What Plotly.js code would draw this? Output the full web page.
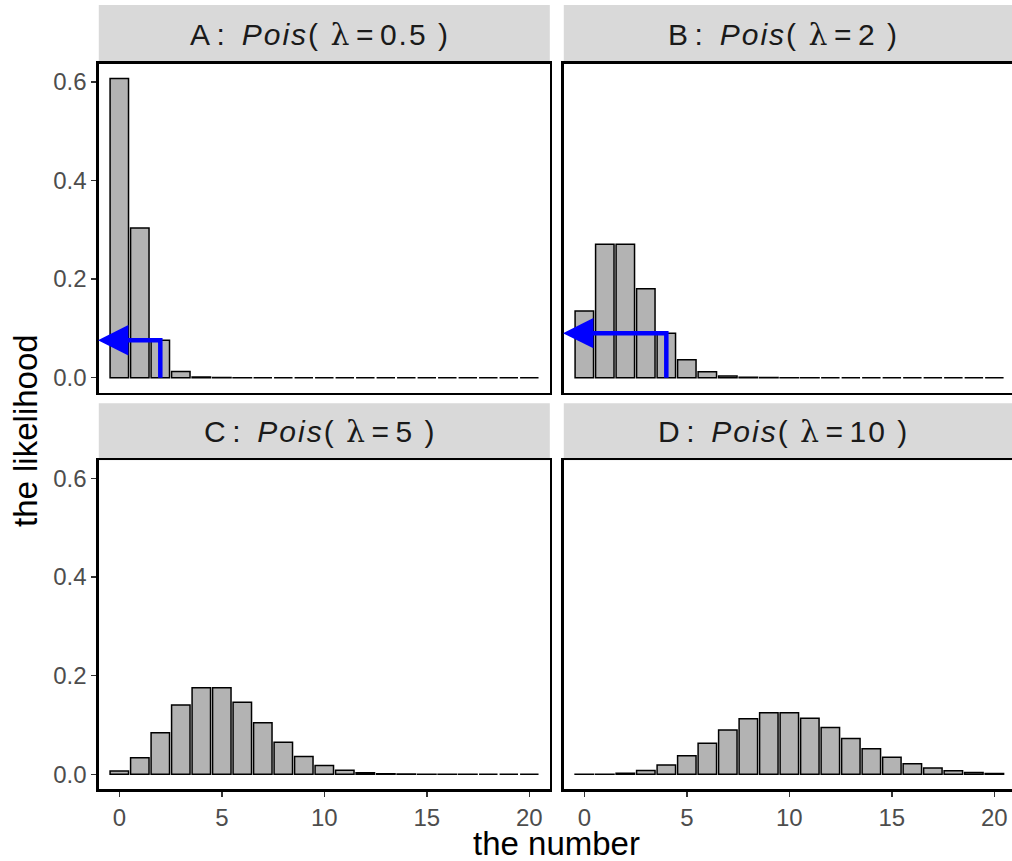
<!DOCTYPE html>
<html>
<head>
<meta charset="utf-8">
<script src="https://cdn.plot.ly/plotly-3.0.1.min.js"></script>
<style>
  html, body { margin: 0; padding: 0; background: #ffffff; }
  #chart { width: 1012px; height: 861px; }
</style>
</head>
<body>
<div id="chart"></div>
<script>
// Counts on the x axis
const counts = [0, 1, 2, 3, 4, 5, 6, 7, 8, 9, 10, 11, 12, 13, 14, 15, 16, 17, 18, 19, 20];

// Panel letters and rate parameters
const panelLetters = ['A', 'B', 'C', 'D'];
const lambdaLabels = ['0.5', '2', '5', '10'];

// Likelihood of each count, one array per panel
const likelihoodA = [0.606531, 0.303265, 0.075816, 0.012636, 0.0015795, 0.00015795, 1.316e-5, 9.40e-7,
  5.88e-8, 3.27e-9, 1.63e-10, 7.42e-12, 3.09e-13, 1.19e-14, 4.25e-16, 1.42e-17, 4.43e-19, 1.30e-20,
  3.62e-22, 9.53e-24, 2.38e-25];
const likelihoodB = [0.135335, 0.270671, 0.270671, 0.180447, 0.090224, 0.036089, 0.012030, 0.0034370,
  0.00085927, 0.00019095, 3.819e-5, 6.944e-6, 1.157e-6, 1.780e-7, 2.543e-8, 3.391e-9, 4.239e-10,
  4.987e-11, 5.541e-12, 5.832e-13, 5.832e-14];
const likelihoodC = [0.006738, 0.033690, 0.084224, 0.140374, 0.175467, 0.175467, 0.146223, 0.104445,
  0.065278, 0.036266, 0.018133, 0.0082422, 0.0034342, 0.0013209, 0.00047174, 0.00015725, 4.914e-5,
  1.445e-5, 4.015e-6, 1.056e-6, 2.641e-7];
const likelihoodD = [4.540e-5, 4.540e-4, 0.0022700, 0.0075667, 0.018917, 0.037833, 0.063055, 0.090079,
  0.112599, 0.125110, 0.125110, 0.113736, 0.094780, 0.072908, 0.052077, 0.034718, 0.021699, 0.012764,
  0.0070911, 0.0037322, 0.0018661];

// Counts picked out with the blue arrows in the upper panels
const markedA = 2;
const markedB = 4;

const yTicks = [0, 0.2, 0.4, 0.6];
const xTicks = [0, 5, 10, 15, 20];

// ---- geometry (pixels -> paper fractions) ----
const W = 1012, H = 861;
const px = v => v / W;
const py = v => (H - v) / H;

const colLeft = [98.8, 549.8];
const colRight = [563.8, 1012];
const rowTop = [63.6, 392.6];
const rowBottom = [460.2, 789.3];
const stripTop = [5, 403.3];

const panels = [
  { ys: likelihoodA, xd: colLeft,  yd: rowTop,    xr: [-1, 21],    strip: stripTop[0], left: true,  bottom: false },
  { ys: likelihoodB, xd: colRight, yd: rowTop,    xr: [-1, 20.86], strip: stripTop[0], left: false, bottom: false },
  { ys: likelihoodC, xd: colLeft,  yd: rowBottom, xr: [-1, 21],    strip: stripTop[1], left: true,  bottom: true },
  { ys: likelihoodD, xd: colRight, yd: rowBottom, xr: [-1, 20.86], strip: stripTop[1], left: false, bottom: true }
];

const yRange = [-0.0303, 0.6368];
const tickFont = { family: 'Liberation Sans, Arial, sans-serif', size: 24, color: '#4d4d4d' };

const NB = '\u00A0';   // non-breaking space
const HAIR = '\u200A';

const traces = [];
const layout = {
  width: W, height: H,
  margin: { l: 0, r: 0, t: 0, b: 0 },
  paper_bgcolor: '#ffffff',
  plot_bgcolor: '#ffffff',
  showlegend: false,
  bargap: 0,
  shapes: [],
  annotations: []
};

panels.forEach((p, i) => {
  const n = i + 1;
  const xa = n === 1 ? 'x' : 'x' + n;
  const ya = n === 1 ? 'y' : 'y' + n;

  traces.push({
    type: 'bar',
    x: counts,
    y: p.ys,
    width: 0.9,
    xaxis: xa, yaxis: ya,
    marker: { color: '#b3b3b3', line: { color: '#000000', width: 1.5 } },
    hoverinfo: 'skip'
  });

  layout['xaxis' + (n === 1 ? '' : n)] = {
    domain: [px(p.xd[0]), px(p.xd[1])],
    range: p.xr,
    anchor: ya,
    showgrid: false, zeroline: false,
    showline: true, linecolor: '#000000', linewidth: 2.5, mirror: true,
    tickmode: 'array', tickvals: xTicks, ticktext: xTicks.map(String),
    ticks: p.bottom ? 'outside' : '', ticklen: 5, tickwidth: 1.5, tickcolor: '#333333',
    showticklabels: p.bottom,
    tickfont: tickFont
  };
  layout['yaxis' + (n === 1 ? '' : n)] = {
    domain: [py(p.yd[1]), py(p.yd[0])],
    range: yRange,
    anchor: xa,
    showgrid: false, zeroline: false,
    showline: true, linecolor: '#000000', linewidth: 2.5, mirror: p.left,
    tickmode: 'array', tickvals: yTicks, ticktext: yTicks.map(v => v.toFixed(1)),
    ticks: p.left ? 'outside' : '', ticklen: 5, tickwidth: 1.5, tickcolor: '#333333',
    showticklabels: p.left,
    tickfont: tickFont
  };

  // facet strip
  layout.shapes.push({
    type: 'rect', xref: 'paper', yref: 'paper',
    x0: px(p.xd[0]), x1: px(p.xd[1]),
    y0: py(p.yd[0]), y1: py(p.strip),
    fillcolor: '#d9d9d9', line: { width: 0 }, layer: 'below'
  });
  layout.annotations.push({
    xref: 'paper', yref: 'paper',
    x: px((p.xd[0] + p.xd[1]) / 2 - 4), y: py((p.strip + p.yd[0]) / 2),
    xanchor: 'center', yanchor: 'middle', showarrow: false,
    text: '<span style="letter-spacing:2px">' + panelLetters[i] + HAIR + ':' + NB + HAIR +
          '<i>Pois</i>(' + NB + '<span style="font-family:DejaVu Serif">λ</span>' + HAIR + '=' + HAIR +
          lambdaLabels[i] + NB + ')</span>',
    font: { family: 'Liberation Sans, Arial, sans-serif', size: 30, color: '#1a1a1a' }
  });
});

// blue arrows: up from the marked bar, then left to the axis
const arrowEnd = -1.04;
[[markedA, likelihoodA, 'x', 'y'], [markedB, likelihoodB, 'x2', 'y2']].forEach(([k, ys, xa, ya]) => {
  traces.push({
    type: 'scatter', mode: 'lines',
    x: [counts[k], counts[k], arrowEnd + 0.9],
    y: [0, ys[k], ys[k]],
    xaxis: xa, yaxis: ya,
    line: { color: '#0000ff', width: 4.5 },
    hoverinfo: 'skip'
  });
  layout.annotations.push({
    xref: xa, yref: ya, axref: xa, ayref: ya,
    x: arrowEnd, y: ys[k], ax: arrowEnd + 1.3, ay: ys[k],
    showarrow: true, arrowhead: 2, arrowsize: 1.35, arrowwidth: 4.5,
    arrowcolor: '#0000ff', standoff: 0, startstandoff: 0, text: ''
  });
});

// axis titles
layout.annotations.push({
  xref: 'paper', yref: 'paper', x: px(25), y: py(431),
  xanchor: 'center', yanchor: 'middle', textangle: -90, showarrow: false,
  text: 'the likelihood',
  font: { family: 'Liberation Sans, Arial, sans-serif', size: 33, color: '#000000' }
});
layout.annotations.push({
  xref: 'paper', yref: 'paper', x: px(556.5), y: py(843),
  xanchor: 'center', yanchor: 'middle', showarrow: false, borderpad: 0,
  text: 'the number',
  font: { family: 'Liberation Sans, Arial, sans-serif', size: 33, color: '#000000' }
});

Plotly.newPlot('chart', traces, layout, { displayModeBar: false, staticPlot: true });
</script>
</body>
</html>
